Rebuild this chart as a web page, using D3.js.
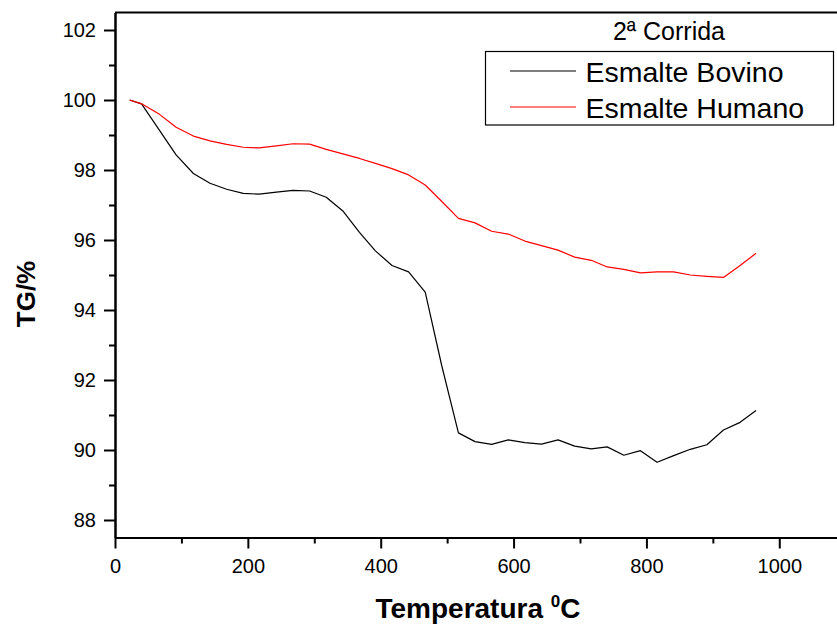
<!DOCTYPE html>
<html>
<head>
<meta charset="utf-8">
<script src="https://cdn.jsdelivr.net/npm/d3@7"></script>
<style>
  html, body { margin: 0; padding: 0; background: #fff; }
  svg { display: block; font-family: "Liberation Sans", Arial, sans-serif; }
</style>
</head>
<body>
<svg id="chart" width="837" height="633"></svg>
<script>
// Temperature readings (°C), shared by both runs
const temperatures = [22, 40, 67, 92, 118, 143, 168, 193, 217, 243, 268, 293, 318, 343, 368,
  392, 417, 442, 467, 492, 517, 542, 567, 592, 617, 642, 667, 692, 717, 741,
  766, 791, 816, 841, 866, 891, 916, 941, 965];

// Mass remaining (TG %)
const esmalteBovino = [100.0, 99.89, 99.13, 98.43, 97.90, 97.62, 97.45, 97.33, 97.31, 97.37,
  97.42, 97.40, 97.22, 96.83, 96.22, 95.69, 95.27, 95.09, 94.51, 92.40,
  90.49, 90.24, 90.16, 90.29, 90.21, 90.17, 90.29, 90.11, 90.03, 90.09,
  89.85, 89.98, 89.65, 89.84, 90.02, 90.15, 90.57, 90.79, 91.13];

const esmalteHumano = [100.0, 99.89, 99.59, 99.22, 98.97, 98.83, 98.73, 98.65, 98.63, 98.69,
  98.75, 98.74, 98.59, 98.46, 98.33, 98.19, 98.04, 97.86, 97.57, 97.10,
  96.62, 96.49, 96.25, 96.17, 95.97, 95.84, 95.71, 95.51, 95.42, 95.23,
  95.16, 95.06, 95.09, 95.09, 95.00, 94.96, 94.93, 95.27, 95.62];

const seriesNames = ["Esmalte Bovino", "Esmalte Humano"];
const seriesColors = ["#000000", "#ff0000"];
const legendTitle = "2ª Corrida";

const xMajorTicks = [0, 200, 400, 600, 800, 1000];
const xMinorTicks = [100, 300, 500, 700, 900, 1100];
const yMajorTicks = [88, 90, 92, 94, 96, 98, 100, 102];
const yMinorTicks = [89, 91, 93, 95, 97, 99, 101];

const svg = d3.select("#chart");

const x = d3.scaleLinear().domain([0, 1100]).range([115, 845.7]);
const y = d3.scaleLinear().domain([87.5, 102.5]).range([537.5, 12.5]);

const axisFont = "20px";

// Top frame line
svg.append("line")
  .attr("x1", x(0)).attr("x2", x(1100))
  .attr("y1", y(102.5)).attr("y2", y(102.5))
  .attr("stroke", "#000").attr("stroke-width", 2);

// Y axis: major ticks with labels, minor ticks without
const yMajor = svg.append("g").attr("transform", `translate(${x(0)},0)`)
  .call(d3.axisLeft(y).tickValues(yMajorTicks).tickSize(11).tickSizeOuter(0).tickPadding(8)
    .tickFormat(d3.format("d")));
const yMinor = svg.append("g").attr("transform", `translate(${x(0)},0)`)
  .call(d3.axisLeft(y).tickValues(yMinorTicks).tickSize(6).tickSizeOuter(0).tickFormat(""));

// X axis
const xMajor = svg.append("g").attr("transform", `translate(0,${y(87.5)})`)
  .call(d3.axisBottom(x).tickValues(xMajorTicks).tickSize(11).tickSizeOuter(0).tickPadding(10)
    .tickFormat(d3.format("d")));
const xMinor = svg.append("g").attr("transform", `translate(0,${y(87.5)})`)
  .call(d3.axisBottom(x).tickValues(xMinorTicks).tickSize(6).tickSizeOuter(0).tickFormat(""));

[yMajor, yMinor, xMajor, xMinor].forEach(g => {
  g.select(".domain").attr("stroke", "#000").attr("stroke-width", 2);
  g.selectAll(".tick line").attr("stroke", "#000").attr("stroke-width", 2);
  g.selectAll(".tick text").attr("fill", "#000")
    .style("font-size", axisFont).style("font-family", "'Liberation Sans', Arial, sans-serif");
});

// Data lines
const line = d3.line()
  .x((d, i) => x(temperatures[i]))
  .y(d => y(d));

[esmalteBovino, esmalteHumano].forEach((vals, k) => {
  svg.append("path")
    .datum(vals)
    .attr("fill", "none")
    .attr("stroke", seriesColors[k])
    .attr("stroke-width", 1.2)
    .attr("stroke-linejoin", "round")
    .attr("d", line);
});

// Axis titles
const xTitle = svg.append("text")
  .attr("x", 478).attr("y", 618)
  .attr("text-anchor", "middle")
  .style("font-size", "28px").style("font-weight", "bold").attr("fill", "#000");
xTitle.append("tspan").text("Temperatura ");
xTitle.append("tspan").attr("dy", -11).style("font-size", "17px").text("0");
xTitle.append("tspan").attr("dy", 11).text("C");

svg.append("text")
  .attr("transform", "translate(35,294) rotate(-90)")
  .attr("text-anchor", "middle")
  .style("font-size", "26px").style("font-weight", "bold").attr("fill", "#000")
  .text("TG/%");

// Legend
svg.append("text")
  .attr("x", 669).attr("y", 40)
  .attr("text-anchor", "middle")
  .style("font-size", "25px").attr("fill", "#000")
  .text(legendTitle);

svg.append("rect")
  .attr("x", 485.5).attr("y", 51.5)
  .attr("width", 348).attr("height", 73.5)
  .attr("fill", "#fff").attr("stroke", "#000").attr("stroke-width", 1.2);

const legendRows = [71, 107];
seriesNames.forEach((name, k) => {
  svg.append("line")
    .attr("x1", 510).attr("x2", 576)
    .attr("y1", legendRows[k]).attr("y2", legendRows[k])
    .attr("stroke", seriesColors[k]).attr("stroke-width", 1.2);
  svg.append("text")
    .attr("x", 585.5).attr("y", legendRows[k] + 10.5)
    .style("font-size", "28.5px").attr("fill", "#000")
    .text(name);
});
</script>
</body>
</html>
